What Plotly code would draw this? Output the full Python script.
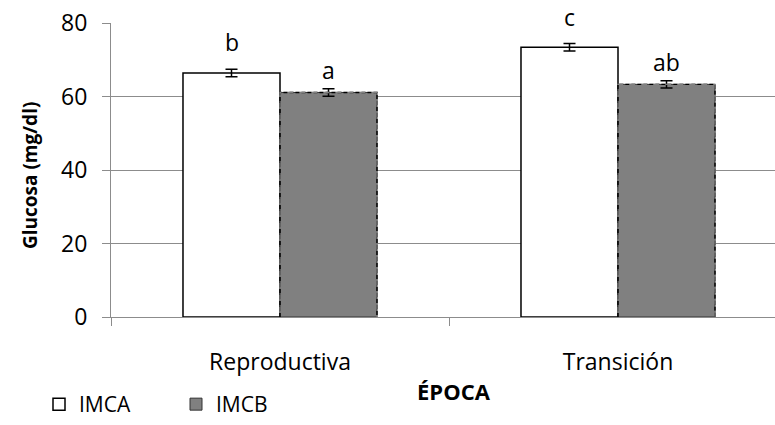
import plotly.graph_objects as go

# Glucose by season and body-condition group
epocas = ["Reproductiva", "Transición"]
imca = [66.4, 73.4]
imca_err = [1.0, 1.0]
imcb = [61.1, 63.3]
imcb_err = [1.0, 1.0]
letras_imca = ["b", "c"]
letras_imcb = ["a", "ab"]

FONT = "Open Sans"
GRID = "#8c8c8c"
BAR_W = 0.287  # width of one bar in category units

xpos = list(range(len(epocas)))
off_a = [x - BAR_W / 2 for x in xpos]
off_b = [x + BAR_W / 2 for x in xpos]

fig = go.Figure()
fig.add_trace(go.Bar(
    name="IMCA", x=off_a, y=imca, width=BAR_W,
    marker=dict(color="white", line=dict(color="black", width=1.5)),
    error_y=dict(type="data", array=imca_err, color="black", thickness=1.5, width=6),
))
fig.add_trace(go.Bar(
    name="IMCB", x=off_b, y=imcb, width=BAR_W,
    marker=dict(color="#808080", line=dict(color="#333333", width=1)),
    error_y=dict(type="data", array=imcb_err, color="black", thickness=1.5, width=6),
))

# dashed outline around the IMCB bars, built from their values
for xc, v in zip(off_b, imcb):
    x0, x1 = xc - BAR_W / 2, xc + BAR_W / 2
    fig.add_trace(go.Scatter(
        x=[x0, x0, x1, x1], y=[0, v, v, 0], mode="lines",
        line=dict(color="black", width=1.4, dash="4px,2px"),
        showlegend=False, hoverinfo="skip",
    ))
    # hide the solid bar border underneath the dashes
    fig.add_trace(go.Scatter(
        x=[x0, x0, x1, x1], y=[0, v, v, 0], mode="lines",
        line=dict(color="#808080", width=1.4, dash="0px,4px,2px"),
        showlegend=False, hoverinfo="skip",
    ))

# significance letters above each bar
for xs, vals, errs, labs, shift in [(off_a, imca, imca_err, letras_imca, 9),
                                     (off_b, imcb, imcb_err, letras_imcb, 1)]:
    for x, v, e, t in zip(xs, vals, errs, labs):
        fig.add_annotation(x=x, y=v + e, text=t, showarrow=False, yanchor="bottom", yshift=shift,
                           font=dict(family=FONT, size=23, color="black"))

fig.add_annotation(xref="paper", yref="paper", x=(454 - 111) / 664, y=(317 - 391) / 294,
                   text="<b>ÉPOCA</b>", showarrow=False, xanchor="center", yanchor="middle",
                   font=dict(family=FONT, size=22, color="black"))
fig.add_annotation(xref="paper", yref="paper", x=(30 - 111) / 664, y=(317 - 176) / 294,
                   text="<b>Glucosa (mg/dl)</b>", showarrow=False, textangle=-90,
                   xanchor="center", yanchor="middle",
                   font=dict(family=FONT, size=19, color="black"))

fig.update_layout(
    width=775, height=425,
    margin=dict(l=111, r=0, t=23, b=108, autoexpand=False),
    paper_bgcolor="white", plot_bgcolor="white",
    barmode="overlay", showlegend=True,
    font=dict(family=FONT, size=23, color="black"),
    legend=dict(orientation="h", x=(39 - 111) / 664, yref="container", y=0,
                xanchor="left", yanchor="bottom", font=dict(family=FONT, size=21),
                entrywidth=92, traceorder="normal", borderwidth=0),
    xaxis=dict(
        range=[-0.5, 1.4645], tickvals=xpos, ticktext=epocas, ticks="",
        showgrid=False, zeroline=False, showline=True, linecolor=GRID, linewidth=1,
        ticklabelstandoff=24,
        minor=dict(tickvals=[-0.5, 0.5, 1.5], ticks="outside", ticklen=8, tickcolor=GRID, showgrid=False),
    ),
    yaxis=dict(
        range=[0, 80], tickvals=[0, 20, 40, 60, 80], ticks="outside", ticklen=8,
        tickcolor=GRID, showgrid=True, gridcolor=GRID, gridwidth=1,
        zeroline=False, showline=True, linecolor=GRID, linewidth=1,
        ticklabelstandoff=10,
    ),
)

fig.write_html("out.html")
